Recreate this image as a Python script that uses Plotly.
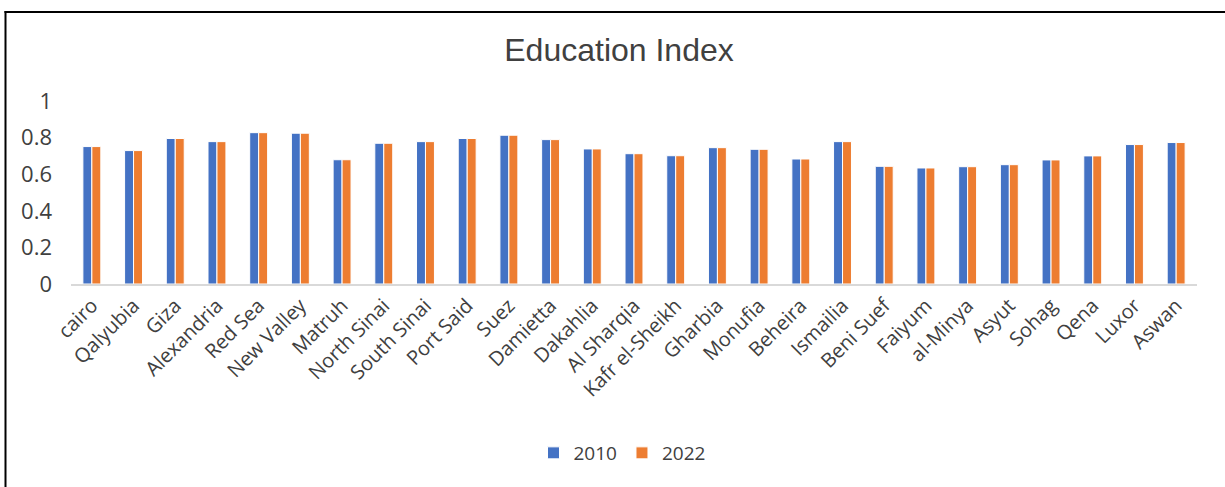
import plotly.graph_objects as go

governorates = [
    "cairo", "Qalyubia", "Giza", "Alexandria", "Red Sea", "New Valley", "Matruh",
    "North Sinai", "South Sinai", "Port Said", "Suez", "Damietta", "Dakahlia",
    "Al Sharqia", "Kafr el-Sheikh", "Gharbia", "Monufia", "Beheira", "Ismailia",
    "Beni Suef", "Faiyum", "al-Minya", "Asyut", "Sohag", "Qena", "Luxor", "Aswan",
]
edu_2010 = [
    0.751, 0.729, 0.795, 0.778, 0.827, 0.824, 0.679,
    0.769, 0.778, 0.795, 0.813, 0.789, 0.738,
    0.712, 0.701, 0.745, 0.736, 0.683, 0.778,
    0.643, 0.634, 0.641, 0.652, 0.678, 0.700, 0.762, 0.773,
]
edu_2022 = [
    0.751, 0.729, 0.795, 0.778, 0.827, 0.824, 0.679,
    0.769, 0.778, 0.795, 0.813, 0.789, 0.738,
    0.712, 0.701, 0.745, 0.736, 0.683, 0.778,
    0.643, 0.634, 0.641, 0.652, 0.678, 0.700, 0.762, 0.773,
]
y_ticks = [0, 0.2, 0.4, 0.6, 0.8, 1]
y_tick_text = ["0", "0.2", "0.4", "0.6", "0.8", "1"]

W, H = 1225, 487
ML, MR, MT, MB = 71, 28, 101, 203
PW, PH = W - ML - MR, H - MT - MB


def px_x(x):
    return (x - ML) / PW


def px_y(y):
    return (H - MB - y) / PH


fig = go.Figure()
fig.add_trace(go.Bar(
    name="2010", x=governorates, y=edu_2010,
    marker=dict(color="#4472C4", line=dict(color="white", width=1)),
))
fig.add_trace(go.Bar(
    name="2022", x=governorates, y=edu_2022,
    marker=dict(color="#ED7D31", line=dict(color="white", width=1)),
))

# outer frame (left and top edges)
fig.add_shape(type="line", xref="paper", yref="paper",
              x0=px_x(5.5), x1=px_x(5.5), y0=px_y(11), y1=px_y(H + 5),
              line=dict(color="black", width=2))
fig.add_shape(type="line", xref="paper", yref="paper",
              x0=px_x(4.5), x1=px_x(W + 5), y0=px_y(12), y1=px_y(12),
              line=dict(color="black", width=2))

fig.update_layout(
    width=W, height=H,
    margin=dict(l=ML, r=MR, t=MT, b=MB, autoexpand=False),
    paper_bgcolor="white", plot_bgcolor="white",
    barmode="group", bargap=0.57, bargroupgap=0.0,
    title=dict(text="Education Index", x=619 / W, xref="container",
               xanchor="center", y=1 - 50 / H, yref="container", yanchor="middle",
               font=dict(family="Arial", size=32, color="#404040")),
    font=dict(family="Open Sans", color="#404040"),
    showlegend=True,
    legend=dict(orientation="h", x=622 / W, xanchor="center",
                xref="container", y=1 - 453 / H, yref="container", yanchor="middle",
                font=dict(size=19, color="#404040"), itemwidth=30,
                traceorder="normal"),
    xaxis=dict(tickangle=-45, tickfont=dict(size=20, color="#404040"),
               showline=True, linecolor="#D9D9D9", linewidth=2,
               showgrid=False, ticks="", ticklen=0),
    yaxis=dict(range=[0, 1], tickvals=y_ticks, ticktext=y_tick_text,
               tickfont=dict(size=22, color="#404040"), showgrid=False,
               zeroline=False, showline=False, ticks="", ticklabelstandoff=18),
)

fig.write_html("out.html")
